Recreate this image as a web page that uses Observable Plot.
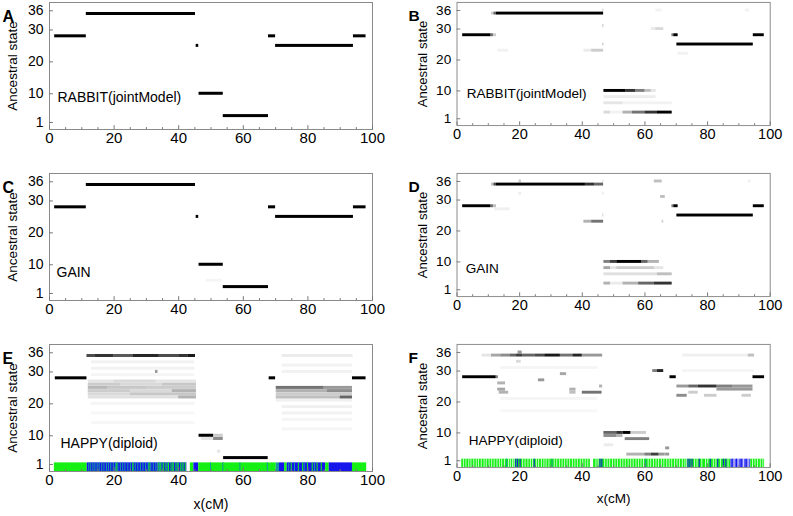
<!DOCTYPE html>
<html><head><meta charset="utf-8">
<script src="https://cdn.jsdelivr.net/npm/d3@7"></script>
<script src="https://cdn.jsdelivr.net/npm/@observablehq/plot@0.6"></script>
<style>
html,body{margin:0;padding:0;background:#fff;overflow:hidden;}
#wrap{position:relative;width:793px;height:516px;font-family:"Liberation Sans",Arial,sans-serif;}
.panel{position:absolute;}
.panel svg{overflow:visible;}
</style></head><body><div id="wrap"></div>
<script>
// ---------- axes / labels ----------
const xTicks = [0, 20, 40, 60, 80, 100];
const xMinor = [5, 10, 15, 25, 30, 35, 45, 50, 55, 65, 70, 75, 85, 90, 95];
const yTicks = [1, 10, 20, 30, 36];
const letters = ["A", "B", "C", "D", "E", "F"];
const methods = ["RABBIT(jointModel)", "RABBIT(jointModel)", "GAIN", "GAIN", "HAPPY(diploid)", "HAPPY(diploid)"];
const yLabel = "Ancestral state";
const xLabel = "x(cM)";

// ---------- posterior segments: [state, x1 (cM), x2 (cM), probability] ----------
const segA = [
  [28,1.6,11.4,1],[35,11.4,45.2,1],[25,45.4,46.2,1],[10,46.3,53.8,1],[3,53.8,67.8,1],
  [28,67.8,70,1],[25,70,94.1,1],[28,94.1,98,1]
];
const segC = [
  [28,1.6,11.4,1],[35,11.4,45.2,1],[25,45.4,46.2,1],[10,46.3,53.8,1],[5,48.5,53.5,0.04],
  [3,53.8,67.8,1],[28,67.8,70,1],[25,70,94.1,1],[28,94.1,98,1]
];
const segB = [
  [28,1.8,10.8,1],[28,10.8,11.6,0.6],[28,11.6,12.6,0.2],
  [35,11.0,11.8,0.2],[35,11.8,12.6,0.6],[35,12.6,46.8,1],
  [23,13,16.5,0.05],[23,40.5,43,0.08],[23,43,46.8,0.2],
  [31,46.5,46.9,0.2],[25,46.5,46.9,0.2],[36,46.5,46.9,0.15],
  [10,46.9,54,1],[10,54,57,0.8],[10,57,60,0.5],[10,60,62,0.25],[10,62,63.6,0.1],
  [8,46.9,63.6,0.07],[6,46.9,53,0.1],[6,53,68.7,0.05],
  [3,46.9,49,0.15],[3,49,53,0.05],[3,53,56,0.3],[3,56,60,0.55],[3,60,64,0.8],[3,64,68.7,1],
  [30,62,63.5,0.08],[30,63.5,66,0.15],[36,63.5,65.5,0.05],
  [28,68.6,69.2,0.5],[28,69.2,70.6,1],[25,70.2,94.6,1],[22,70.5,74,0.05],
  [28,94.6,98.1,1],[36,92,93.5,0.05]
];
const segD = [
  [28,1.8,10.8,1],[28,10.8,11.6,0.6],[28,11.6,12.6,0.25],
  [35,11.0,11.8,0.25],[35,11.8,12.6,0.7],[35,12.6,41,1],[35,41,44,0.8],[35,44,46.8,0.6],
  [36,19.8,20.6,0.2],[32,19.8,20.6,0.08],[27,12,17,0.06],
  [23,40.5,43,0.3],[23,43,46.8,0.55],
  [36,46.5,46.9,0.1],[32,46.5,46.9,0.1],[25,46.5,46.9,0.15],
  [10,46.9,49,0.5],[10,49,51,0.75],[10,51,59,1],[10,59,61,0.6],[10,61,64.6,0.3],
  [8,46.9,49,0.35],[8,49,51,0.1],[8,51,63,0.2],[8,63,66,0.1],
  [6,46.9,64,0.12],[6,64,68.7,0.25],
  [3,46.9,49,0.3],[3,49,53,0.08],[3,53,58,0.3],[3,58,63,0.6],[3,63,68.7,0.8],
  [36,63,65.5,0.25],[31,65,66.5,0.25],[23,65.5,66,0.2],
  [28,68.6,69.2,0.5],[28,69.2,70.6,1],[25,70.2,94.6,1],[28,94.6,98.1,1],[36,93,94,0.05]
];
const segE = [
  [28,1.8,11.6,1],
  [35,11.6,14,0.7],[35,14,20,0.8],[35,20,26,0.65],[35,26,34,0.85],[35,34,40,0.7],[35,40,43,0.8],[35,43,45.2,0.9],
  [33,13,45,0.05],[31,13,45,0.05],[29,13,45,0.04],[30,32.8,33.6,0.4],
  [27,12,20,0.1],[27,20,33,0.15],[27,33,45.5,0.1],
  [26,12,22,0.2],[26,22,35,0.15],[26,35,45.5,0.22],
  [25,12,18,0.28],[25,18,30,0.22],[25,30,45.5,0.2],
  [24,12,25,0.2],[24,25,38,0.15],[24,38,45.5,0.3],
  [23,12,25,0.15],[23,25,45.5,0.22],[22,12,40,0.12],[22,40,45.5,0.3],
  [20,13,45,0.04],[17,13,45,0.03],[14,13,45,0.03],
  [10,46.3,50.8,1],[9,47,50.8,0.1],[9,50.8,53.8,0.45],[10,50.8,53.8,0.2],[5,52,53,0.1],
  [3,53.9,67.7,1],[28,68,70,1],
  [35,72,94,0.08],[32,72,93.8,0.05],[30,72,93.8,0.05],
  [25,70.2,85,0.55],[25,85,93.8,0.4],[24,70.2,86,0.3],[24,86,93.8,0.45],
  [23,70.2,93.8,0.2],[22,70.2,90,0.25],[22,90,93.8,0.6],[21,70.2,93.8,0.06],
  [19,72,93.8,0.06],[17,72,93.8,0.05],[15,72,93.8,0.04],[12,72,93.8,0.04],
  [28,93.8,98,1]
];
const segF = [
  [28,1.8,12.5,1],[28,12.5,13.2,0.5],
  [35,8,11,0.1],[35,11,14,0.35],[35,14,17,0.45],[35,17,19,0.6],[35,19,21,0.75],[35,21,25,0.6],
  [35,25,28,0.7],[35,28,33,0.9],[35,33,37,0.55],[35,37,40,0.85],[35,40,46.5,0.4],
  [36,19.5,20.8,0.4],[33,19,20.5,0.15],
  [26,13,15.5,0.3],[24,13,15.5,0.35],[23,13.5,16.5,0.3],[27,26,28,0.4],[29,33,35,0.35],
  [24,36,38,0.3],[23,36,38,0.25],[23,40,46.3,0.55],[25,45.5,46.5,0.3],
  [31,14,45,0.04],[21,14,45,0.04],[17,14,45,0.03],
  [10,46.9,51,0.6],[10,51,53,0.8],[10,53,55.5,1],[10,55.5,60.5,0.2],
  [9,46.9,51,0.45],[9,51,53,0.3],[8,53.7,61.5,0.5],[6,47,50,0.08],[5,66.6,67.9,0.4],
  [3,54.2,60,0.3],[3,60,62,0.5],[3,62,64.5,0.75],[3,64.5,66.5,0.4],[3,66.6,67.9,0.4],
  [30,62.5,64,0.5],[30,64,66,0.85],[28,68,70,1],
  [25,70.2,74,0.4],[25,74,77,0.6],[25,77,83,0.8],[25,83,88,0.5],[25,88,94.5,0.4],
  [24,83,94.5,0.4],[22,70.2,73.5,0.45],[22,79,83,0.2],[22,91,94,0.2],[23,74,77,0.2],
  [35,72,95,0.06],[35,93,95,0.2],[30,72,95,0.04],
  [28,94.5,98.2,1]
];

// ---------- HAPPY colour band: [x1, x2, code] and thin stripes [x, code] ----------
const bandColors = {g: "#14ef14", b: "#1616ec", t: "#169a9e", w: "#ffffff", l: "#5c5cf2"};
const bandE = [
  [1.5,11.7,"g"],[11.7,33.5,"b"],[33.5,42.6,"b"],[42.6,43.6,"w"],[43.6,44.7,"g"],[44.7,46.2,"b"],
  [46.2,70.2,"g"],[70.2,71.2,"t"],[71.2,72.8,"b"],[72.8,73.6,"g"],[73.6,85.5,"b"],[85.5,86.6,"g"],
  [86.6,93.8,"b"],[93.8,98.2,"g"]
];
const stripesE = [
  [12.3,"t"],[12.9,"t"],[13.6,"t"],[14.2,"t"],[14.9,"t"],[15.5,"t"],[16.3,"t"],[17.0,"t"],[17.8,"t"],
  [18.4,"t"],[19.1,"t"],[19.9,"t"],[20.6,"t"],[21.0,"g"],[21.3,"t"],[22.1,"t"],[22.8,"t"],[23.5,"t"],
  [24.4,"t"],[25.2,"t"],[25.9,"t"],[26.0,"g"],[26.7,"t"],[27.5,"t"],[28.3,"t"],[29.1,"t"],[29.9,"t"],
  [30.7,"t"],[31.0,"g"],[31.5,"t"],[32.3,"t"],[33.1,"t"],[33.8,"g"],[34.2,"t"],[34.6,"g"],[35.0,"t"],
  [35.5,"g"],[36.2,"g"],[36.6,"t"],[37.0,"g"],[37.8,"g"],[38.2,"t"],[38.5,"g"],[39.3,"g"],[39.7,"t"],
  [40.0,"g"],[40.8,"g"],[41.2,"t"],[41.5,"g"],[42.2,"g"],
  [50.0,"t"],[53.8,"t"],[59.1,"t"],[67.6,"t"],
  [74.2,"t"],[75.0,"g"],[76.0,"t"],[77.2,"g"],[78.5,"g"],[79.0,"t"],[80.0,"g"],[81.5,"g"],
  [82.2,"t"],[83.0,"g"],[84.3,"g"]
];
const bandF = [
  [1.5,42.6,"g"],[42.6,43.6,"w"],[43.6,87.4,"g"],[87.4,93.8,"l"],[93.8,98.2,"g"]
];
const stripesF = [
  [16.0,"t"],[18.9,"b"],[19.5,"b"],[20.3,"b"],[24.8,"b"],[30.5,"t"],[45.8,"b"],[46.4,"b"],
  [60.4,"t"],[73.9,"b"],[74.5,"b"],[75.2,"b"],[77.5,"b"],[81.0,"b"],[83.4,"b"],[85.2,"b"],[86.0,"b"],
  [88.0,"b"],[89.4,"b"],[90.9,"b"],[92.5,"b"]
];
const whitesF = [
  2.2,3.0,3.9,4.6,5.5,6.3,7.0,7.9,8.8,9.5,10.4,11.2,12.0,12.9,13.7,14.4,15.3,16.6,17.2,17.9,18.4,
  21.1,21.9,22.8,23.6,24.3,25.5,26.2,27.1,27.9,28.6,29.5,31.2,32.0,32.9,33.7,34.5,35.3,36.1,37.0,
  37.8,38.6,39.5,40.3,41.1,41.9,44.5,45.2,47.3,48.1,48.9,49.8,50.6,51.4,52.3,53.1,53.9,54.8,55.6,
  56.4,57.3,58.1,58.9,59.7,61.2,62.0,62.9,63.7,64.5,65.4,66.2,67.1,67.9,68.7,69.6,70.4,71.2,72.1,
  72.9,73.5,76.0,76.8,78.3,79.5,80.2,82.0,82.8,84.3,86.7,88.6,89.9,91.6,93.1,94.5,95.3,96.1,97.0,97.8
];

// ---------- layout ----------
const Y0 = -1.2, Y1 = 38.6;
const panels = [
  {seg: segA, left: 0,   top: 0,   mdx: 8,  mdy: -28},
  {seg: segB, left: 409, top: 0,   mdx: 10, mdy: -28},
  {seg: segC, left: 0,   top: 171, mdx: 7,  mdy: -24},
  {seg: segD, left: 409, top: 171, mdx: 9,  mdy: -24},
  {seg: segE, left: 0,   top: 342, mdx: 11, mdy: -23.5, band: bandE, stripes: stripesE, whites: []},
  {seg: segF, left: 409, top: 342, mdx: 12, mdy: -23.5, band: bandF, stripes: stripesF, whites: whitesF}
];

const wrap = document.getElementById("wrap");
panels.forEach((p, i) => {
  const isRight = i % 2 === 1;
  const isBottom = i >= 4;
  const marks = [];
  marks.push(Plot.rect(p.seg, {
    x1: d => d[1], x2: d => d[2], y1: d => d[0] - 0.47, y2: d => d[0] + 0.47,
    fill: "black", fillOpacity: d => d[3]
  }));
  if (p.band) {
    marks.push(Plot.rect(p.band, {x1: d => d[0], x2: d => d[1], y1: Y0, y2: 1.5, fill: d => bandColors[d[2]]}));
    marks.push(Plot.rect(p.whites, {x1: d => d - 0.16, x2: d => d + 0.16, y1: Y0, y2: 1.5, fill: "white", fillOpacity: 0.75}));
    marks.push(Plot.rect(p.stripes, {x1: d => d[0] - 0.16, x2: d => d[0] + 0.16, y1: Y0, y2: 1.5, fill: d => bandColors[d[1]]}));
  }
  marks.push(Plot.frame({stroke: "#8a8a8a"}));
  marks.push(Plot.ruleX(xMinor, {y1: Y0, y2: Y0 + 0.6, stroke: "#777"}));
  marks.push(Plot.ruleX(xTicks, {y1: Y0, y2: Y0 + 1.2, stroke: "#777"}));
  marks.push(Plot.ruleY(yTicks, {x1: 0, x2: 1.2, stroke: "#777"}));
  marks.push(Plot.axisX({ticks: xTicks, tickSize: 0, tickPadding: 3, fontSize: 15, label: null}));
  marks.push(Plot.axisY({ticks: yTicks, tickSize: 0, tickPadding: 6, fontSize: 14, label: null}));
  marks.push(Plot.text([letters[i]], {frameAnchor: "top-left", dx: isRight ? -50 : -47, dy: 8, textAnchor: "start", fontWeight: "bold", fontSize: 16}));
  marks.push(Plot.text([yLabel], {frameAnchor: "left", dx: isRight ? -35 : -37, rotate: -90, textAnchor: "middle", fontSize: 13.5}));
  marks.push(Plot.text([methods[i]], {frameAnchor: "bottom-left", dx: p.mdx, dy: p.mdy, textAnchor: "start", fontSize: 14}));
  if (isBottom) marks.push(Plot.text([xLabel], {frameAnchor: "bottom", dy: 37, fontSize: 14}));

  const chart = Plot.plot({
    width: 396, height: isBottom ? 176 : 170,
    marginLeft: 49, marginRight: 24, marginTop: 2, marginBottom: isBottom ? 47 : 41,
    x: {domain: [0, 100], label: null},
    y: {domain: [Y0, Y1], label: null},
    style: {fontFamily: "'Liberation Sans', Arial, sans-serif", color: "black", background: "transparent", overflow: "visible"},
    marks
  });
  const div = document.createElement("div");
  div.className = "panel";
  div.style.left = p.left + "px";
  div.style.top = p.top + "px";
  div.appendChild(chart);
  wrap.appendChild(div);
});
</script>
</body></html>
